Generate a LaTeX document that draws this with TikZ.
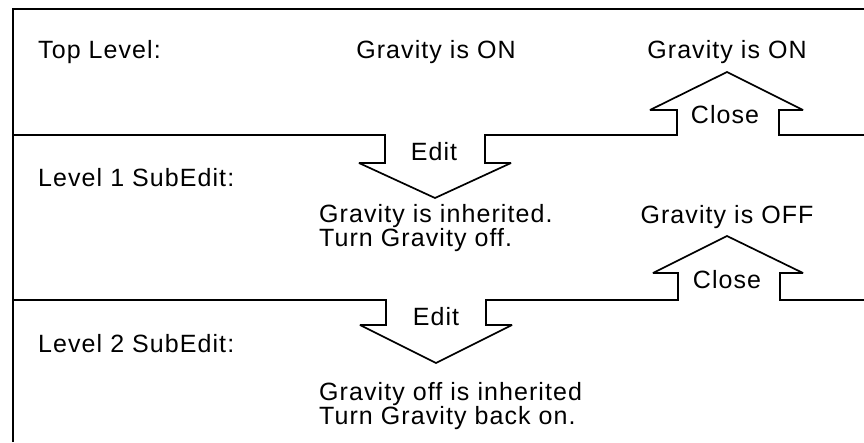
\documentclass[tikz,border=0pt]{standalone}
\usepackage{fontspec}
\setmainfont{Liberation Sans}[LetterSpace=4.3]
\usepackage{tikz}
\usetikzlibrary{positioning}

\begin{document}
\begin{tikzpicture}[
    x=1pt, y=-1pt,
    every node/.style={inner sep=0pt, font=\fontsize{25}{22.5}\selectfont},
    lvl/.style={anchor=base west},
    state/.style={anchor=base},
    note/.style={anchor=north west, align=left},
    rule/.style={line width=1.7pt, miter limit=4}
]
\useasboundingbox (0,0) rectangle (864,442);

% frame
\draw[rule] (13,442) -- (13,9) -- (864,9);

% level 1 divider with Edit (down) and Close (up) arrows
\draw[rule] (13,135) -- (385,135) -- (385,163) -- (359,163) -- (435,198) -- (511,163) -- (485,163) -- (485,135)
    -- (677,135) -- (677,110) -- (650,110) -- (727,72) -- (803,110) -- (779,110) -- (779,135) -- (864,135);

% level 2 divider
\draw[rule] (13,300) -- (386,300) -- (386,325) -- (360,325) -- (436,363) -- (512,325) -- (486,325) -- (486,300)
    -- (678,300) -- (678,273) -- (653,273) -- (727,236) -- (803,273) -- (780,273) -- (780,300) -- (864,300);

% level names
\node[lvl] (top) at (38,58) {Top Level:};
\node[lvl] (sub1) at (38,186) {Level 1 SubEdit:};
\node[lvl] (sub2) at (38,352) {Level 2 SubEdit:};

% states
\node[state] (on1) at (436,58) {Gravity is ON};
\node[state] (on2) at (727,58) {Gravity is ON};
\node[state] (off) at (727,223) {Gravity is OFF};
\node[note] (inh1) at (319,204) {Gravity is inherited.\\Turn Gravity off.};
\node[note] (inh2) at (319,382) {Gravity off is inherited\\Turn Gravity back on.};

% arrow labels
\node[state] (edit1) at (434,160) {Edit};
\node[state] (edit2) at (436,325) {Edit};
\node[state] (close1) at (725,123) {Close};
\node[state] (close2) at (727,288) {Close};
\end{tikzpicture}
\end{document}
